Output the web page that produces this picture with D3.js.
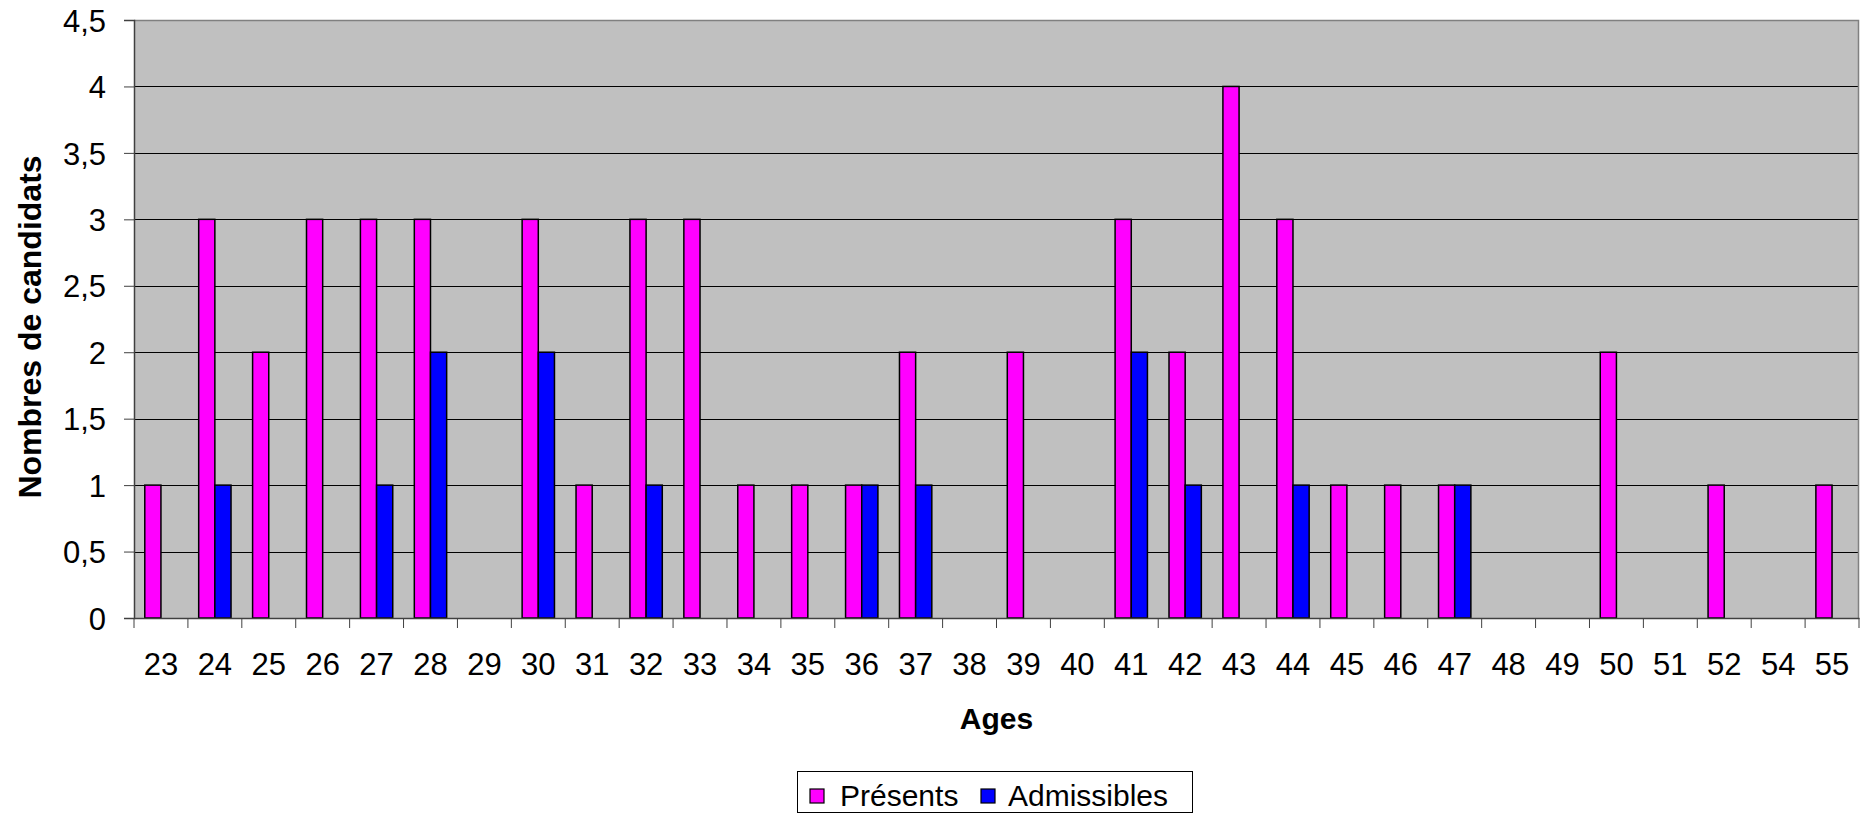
<!DOCTYPE html>
<html>
<head>
<meta charset="utf-8">
<script src="https://cdn.jsdelivr.net/npm/d3@7"></script>
<style>
  html, body { margin: 0; padding: 0; background: #fff; }
  svg { display: block; font-family: "Liberation Sans", Arial, sans-serif; }
</style>
</head>
<body>
<svg id="chart" width="1870" height="825"></svg>
<script>
// Ages of the candidates (x categories)
const ages = ["23","24","25","26","27","28","29","30","31","32","33","34","35","36","37","38",
              "39","40","41","42","43","44","45","46","47","48","49","50","51","52","54","55"];
// Number of candidates present per age
const presents = [1,3,2,3,3,3,0,3,1,3,3,1,1,1,2,0,2,0,3,2,4,3,1,1,1,0,0,2,0,1,0,1];
// Number of admissible candidates per age
const admissibles = [0,1,0,0,1,2,0,2,0,1,0,0,0,1,1,0,0,0,2,1,0,1,0,0,1,0,0,0,0,0,0,0];
const yTicks = [0,0.5,1,1.5,2,2.5,3,3.5,4,4.5];
const seriesNames = ["Présents","Admissibles"];
const seriesColors = ["#FF00FF","#0000FF"];

const svg = d3.select("#chart");
const plot = { left: 134, right: 1859, top: 20, bottom: 618 };

const x = d3.scaleBand().domain(ages).range([plot.left, plot.right]).padding(0);
const y = d3.scaleLinear().domain([0, 4.5]).range([plot.bottom, plot.top]);
const barW = x.bandwidth() * 0.3;

// plot background
svg.append("rect")
  .attr("x", plot.left).attr("y", plot.top)
  .attr("width", plot.right - plot.left).attr("height", plot.bottom - plot.top)
  .attr("fill", "#C0C0C0");

// horizontal gridlines
svg.append("g")
  .selectAll("line")
  .data(yTicks.filter(d => d > 0 && d < 4.5))
  .join("line")
  .attr("x1", plot.left).attr("x2", plot.right)
  .attr("y1", d => Math.round(y(d)) + 0.5).attr("y2", d => Math.round(y(d)) + 0.5)
  .attr("stroke", "#000").attr("stroke-width", 1);

// top and right frame
svg.append("path")
  .attr("d", `M${plot.left},${plot.top + 0.5}H${plot.right - 0.5}V${plot.bottom}`)
  .attr("fill", "none").attr("stroke", "#808080").attr("stroke-width", 1.5);

// bars
const fmt = v => String(v).replace(".", ",");
const series = [presents, admissibles];
series.forEach((vals, si) => {
  svg.append("g")
    .selectAll("rect")
    .data(ages.map((a, i) => ({ age: a, v: vals[i] })).filter(d => d.v > 0))
    .join("rect")
    .attr("x", d => x(d.age) + x.bandwidth() / 2 - barW + si * barW)
    .attr("y", d => y(d.v))
    .attr("width", barW)
    .attr("height", d => y(0) - y(d.v))
    .attr("fill", seriesColors[si])
    .attr("stroke", "#000")
    .attr("stroke-width", 1.5);
});

// y axis
const yAxis = svg.append("g")
  .attr("transform", `translate(${plot.left},0)`)
  .call(d3.axisLeft(y).tickValues(yTicks).tickFormat(fmt).tickSize(10).tickPadding(18));
yAxis.select(".domain").attr("stroke", "#404040").attr("stroke-width", 1.5);
yAxis.selectAll(".tick line").attr("stroke", "#404040");
yAxis.selectAll("text").attr("font-size", 31).attr("fill", "#000")
  .attr("font-family", "Liberation Sans, Arial, sans-serif").attr("dy", "0.36em");

// x axis: ticks on category boundaries
const xAxis = svg.append("g")
  .attr("transform", `translate(0,${plot.bottom})`)
  .call(d3.axisBottom(x).tickSize(0).tickPadding(0));
xAxis.select(".domain").attr("stroke", "#404040").attr("stroke-width", 1.5);
xAxis.selectAll(".tick text").attr("font-size", 31).attr("fill", "#000")
  .attr("font-family", "Liberation Sans, Arial, sans-serif").attr("dy", 0).attr("y", 57);
svg.append("g")
  .selectAll("line")
  .data(ages.concat(["end"]))
  .join("line")
  .attr("x1", (d, i) => i < ages.length ? x(d) : plot.right)
  .attr("x2", (d, i) => i < ages.length ? x(d) : plot.right)
  .attr("y1", plot.bottom).attr("y2", plot.bottom + 10)
  .attr("stroke", "#404040").attr("stroke-width", 1);

// axis titles
svg.append("text")
  .attr("x", (plot.left + plot.right) / 2).attr("y", 729)
  .attr("text-anchor", "middle").attr("font-size", 30).attr("font-weight", "bold")
  .text("Ages");
svg.append("text")
  .attr("transform", `translate(41,327) rotate(-90)`)
  .attr("text-anchor", "middle").attr("font-size", 32).attr("font-weight", "bold")
  .text("Nombres de candidats");

// legend
const lg = svg.append("g");
lg.append("rect")
  .attr("x", 797.5).attr("y", 771.5).attr("width", 395).attr("height", 41)
  .attr("fill", "#fff").attr("stroke", "#000").attr("stroke-width", 1);
const legendItems = [{ x: 810, tx: 840 }, { x: 981, tx: 1008 }];
seriesNames.forEach((name, i) => {
  lg.append("rect")
    .attr("x", legendItems[i].x).attr("y", 789).attr("width", 14).attr("height", 14)
    .attr("fill", seriesColors[i]).attr("stroke", "#000").attr("stroke-width", 1.2);
  lg.append("text")
    .attr("x", legendItems[i].tx).attr("y", 806)
    .attr("font-size", 30).text(name);
});
</script>
</body>
</html>
